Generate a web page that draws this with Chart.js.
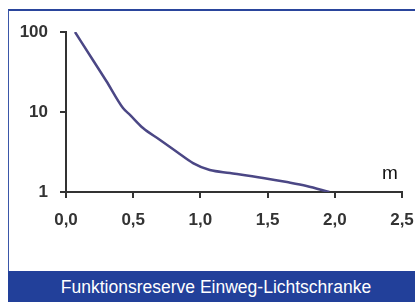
<!DOCTYPE html>
<html>
<head>
<meta charset="utf-8">
<script src="https://cdn.jsdelivr.net/npm/chart.js@4"></script>
<style>
  html, body { margin: 0; padding: 0; background: #fff; }
  #wrap { position: relative; width: 415px; height: 302px; overflow: hidden; }
  #frame { position: absolute; left: 8px; top: 9px; width: 407px; height: 262px;
           border-left: 1px solid #3a56a8; border-top: 2px solid #2a459c; box-sizing: border-box; }
  #band { position: absolute; left: 8px; top: 271px; width: 407px; height: 31px; background: #22409a;
          color: #fff; font: 17.5px "Liberation Sans", Arial, sans-serif; line-height: 32px;
          text-align: center; padding-left: 9px; box-sizing: border-box; white-space: nowrap; }
  canvas { position: absolute; left: 0; top: 0; }
</style>
</head>
<body>
<div id="wrap">
  <div id="frame"></div>
  <canvas id="chart" width="415" height="302"></canvas>
  <div id="band">Funktionsreserve Einweg-Lichtschranke</div>
</div>
<script>
// distance in m, function reserve (log scale)
const distance = [0.067, 0.2, 0.3, 0.424, 0.476, 0.573, 0.7, 0.826, 0.945, 1.07, 1.22, 1.466, 1.644, 1.79, 1.96];
const reserve  = [100, 44.7, 24.4, 11.2, 9.2, 6.3, 4.47, 3.16, 2.3, 1.88, 1.73, 1.5, 1.33, 1.19, 1.0];
const yTicks = [1, 10, 100];
const unitLabel = 'm';

const points = distance.map((d, i) => ({ x: d, y: reserve[i] }));

const unitPlugin = {
  id: 'unit',
  afterDraw(chart) {
    const { ctx, chartArea } = chart;
    ctx.save();
    ctx.fillStyle = '#111';
    ctx.font = '19px "Liberation Sans", Arial, sans-serif';
    ctx.textAlign = 'center';
    ctx.textBaseline = 'middle';
    ctx.fillText(unitLabel, chartArea.right - 12, chartArea.bottom - 18);
    ctx.restore();
  }
};

const tickFont = { family: '"Liberation Sans", Arial, sans-serif', size: 17, weight: 'bold' };

new Chart(document.getElementById('chart').getContext('2d'), {
  type: 'line',
  data: {
    datasets: [{
      data: points,
      borderColor: '#4b4785',
      borderWidth: 2.5,
      pointRadius: 0,
      cubicInterpolationMode: 'monotone',
      fill: false
    }]
  },
  options: {
    responsive: false,
    animation: false,
    layout: { padding: { top: 32, right: 13, bottom: 70, left: 0 } },
    plugins: { legend: { display: false }, tooltip: { enabled: false } },
    scales: {
      x: {
        type: 'linear',
        min: 0,
        max: 2.5,
        afterFit: s => { s.height = 40; s.paddingLeft = 0; s.paddingRight = 0; },
        border: { display: true, color: '#333', width: 2 },
        grid: { drawOnChartArea: false, drawTicks: true, tickLength: 6, color: '#333', lineWidth: 2 },
        ticks: {
          stepSize: 0.5,
          padding: 12,
          color: '#333',
          font: tickFont,
          maxRotation: 0,
          callback: v => v.toFixed(1).replace('.', ',')
        }
      },
      y: {
        type: 'logarithmic',
        min: 1,
        max: 100,
        afterFit: s => { s.width = 66; s.paddingTop = 0; s.paddingBottom = 0; },
        afterBuildTicks: s => { s.ticks = yTicks.map(v => ({ value: v })); },
        border: { display: true, color: '#333', width: 2 },
        grid: { drawOnChartArea: false, drawTicks: true, tickLength: 6, color: '#333', lineWidth: 2 },
        ticks: {
          padding: 12,
          color: '#333',
          font: tickFont,
          callback: v => String(v)
        }
      }
    }
  },
  plugins: [unitPlugin]
});
</script>
</body>
</html>
